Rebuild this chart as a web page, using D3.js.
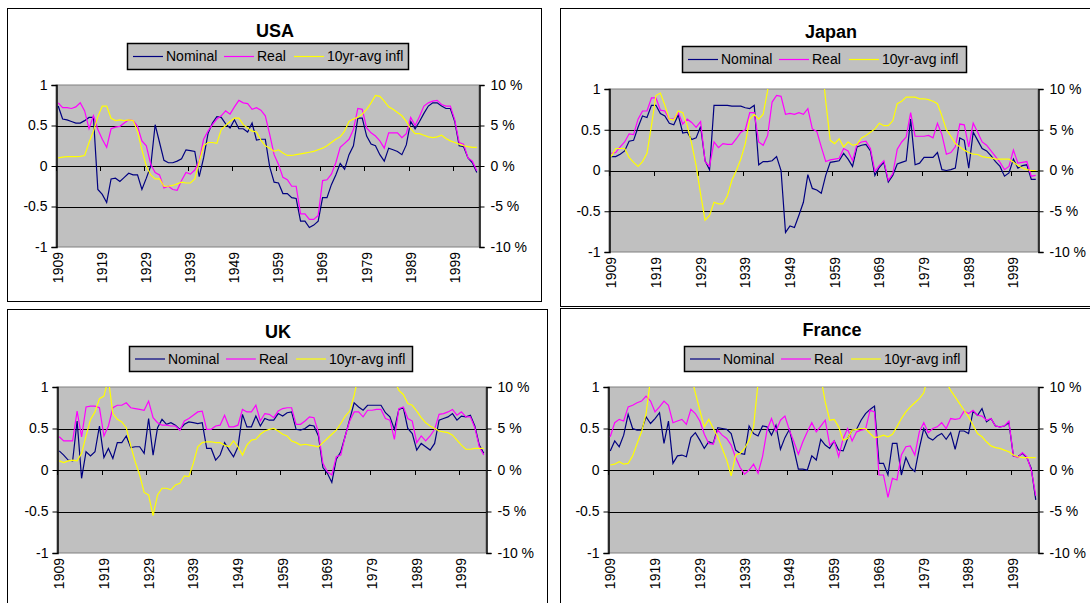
<!DOCTYPE html>
<html>
<head>
<meta charset="utf-8">
<script src="https://cdnjs.cloudflare.com/ajax/libs/d3/7.8.5/d3.min.js"></script>
<style>
  body { margin: 0; background: #fff; }
  svg { display: block; }
  text { font-family: Arial, "Liberation Sans", sans-serif; fill: #000; }
</style>
</head>
<body>
<svg id="chart" width="1090" height="603"></svg>
<script>
// categories: one per year, 1909..2004
const years = d3.range(1909, 2005);
const yearLabels = [1909, 1919, 1929, 1939, 1949, 1959, 1969, 1979, 1989, 1999];
const leftTicks = [1, 0.5, 0, -0.5, -1];
const rightTicks = [10, 5, 0, -5, -10];
const seriesNames = ['Nominal', 'Real', '10yr-avg infl'];
const seriesColors = ['#000080', '#ff00ff', '#ffff00'];

// USA
const usaNominal = [0.74,0.58,0.57,0.55,0.53,0.53,0.56,0.6,0.6,-0.29,
  -0.35,-0.45,-0.16,-0.15,-0.19,-0.14,-0.09,-0.11,-0.11,-0.29,
  -0.15,0.0,0.51,0.29,0.07,0.04,0.04,0.06,0.09,0.2,
  0.19,0.18,-0.13,0.1,0.4,0.53,0.61,0.6,0.52,0.47,
  0.57,0.46,0.46,0.42,0.53,0.32,0.33,0.33,-0.01,-0.2,
  -0.21,-0.34,-0.34,-0.39,-0.4,-0.68,-0.68,-0.76,-0.73,-0.68,
  -0.39,-0.39,-0.23,-0.11,0.03,-0.04,0.14,0.25,0.59,0.59,
  0.37,0.27,0.25,0.14,0.06,0.22,0.2,0.18,0.14,0.26,
  0.55,0.46,0.55,0.65,0.74,0.78,0.78,0.74,0.71,0.71,
  0.55,0.25,0.24,0.1,0.04,-0.08];
const usaReal = [0.78,0.72,0.72,0.71,0.73,0.78,0.68,0.46,0.62,0.45,
  0.33,0.23,0.46,0.48,0.49,0.53,0.57,0.56,0.49,0.31,
  0.25,0.02,-0.08,-0.11,-0.27,-0.25,-0.29,-0.3,-0.18,-0.08,
  -0.1,-0.05,0.06,0.33,0.43,0.51,0.58,0.62,0.68,0.64,
  0.73,0.81,0.78,0.77,0.7,0.72,0.69,0.62,0.39,0.14,
  0.02,-0.14,-0.17,-0.25,-0.25,-0.59,-0.59,-0.66,-0.66,-0.61,
  -0.18,-0.17,-0.1,0.04,0.23,0.28,0.33,0.45,0.71,0.7,
  0.47,0.41,0.37,0.31,0.22,0.41,0.41,0.41,0.35,0.4,
  0.6,0.5,0.61,0.74,0.78,0.8,0.81,0.76,0.74,0.74,
  0.57,0.29,0.27,0.1,0.06,-0.06];
const usaInfl = [1.0,1.1,1.15,1.15,1.15,1.2,1.3,2.9,4.3,6.1,
  7.4,7.4,5.9,5.6,5.7,5.6,5.7,5.6,4.3,2.0,
  0.0,-1.1,-1.6,-1.6,-2.5,-2.5,-2.4,-2.2,-2.0,-2.1,
  -2.1,-1.6,0.5,2.5,2.9,2.9,2.8,4.5,5.0,5.5,
  5.9,5.9,5.1,4.7,4.3,4.2,3.2,2.5,2.2,1.8,
  2.0,1.6,1.3,1.3,1.4,1.5,1.6,1.7,1.8,2.0,
  2.2,2.5,2.9,3.3,3.6,4.3,5.5,5.8,6.0,6.4,
  7.0,7.8,8.7,8.6,8.0,7.3,7.0,6.6,6.2,5.5,
  4.6,4.0,4.0,3.8,3.6,3.5,3.6,3.8,3.4,3.1,
  2.9,2.7,2.5,2.4,2.3,2.3];

// Japan
const japanNominal = [0.17,0.17,0.2,0.24,0.36,0.37,0.53,0.67,0.65,0.8,
  0.8,0.7,0.67,0.58,0.56,0.68,0.46,0.47,0.38,0.4,
  0.54,0.12,0.01,0.8,0.8,0.8,0.8,0.79,0.79,0.79,
  0.77,0.76,0.8,0.07,0.11,0.11,0.12,0.17,0.0,-0.76,
  -0.68,-0.7,-0.55,-0.39,-0.05,-0.22,-0.24,-0.28,-0.06,0.1,
  0.11,0.12,0.21,0.14,0.05,0.29,0.31,0.32,0.24,-0.06,
  0.04,0.1,-0.14,-0.06,0.08,0.1,0.12,0.63,0.07,0.09,
  0.16,0.16,0.16,0.22,0.01,0.0,0.01,0.03,0.4,0.37,
  0.03,0.47,0.37,0.27,0.24,0.18,0.11,0.05,-0.07,-0.03,
  0.14,0.03,0.06,0.07,-0.11,-0.11];
const japanReal = [0.21,0.22,0.29,0.35,0.45,0.44,0.63,0.73,0.73,0.89,
  0.89,0.74,0.73,0.63,0.63,0.71,0.57,0.63,0.59,0.53,
  0.6,0.11,0.05,0.35,0.28,0.33,0.32,0.32,0.39,0.47,
  0.5,0.71,0.71,0.35,0.31,0.43,0.84,0.92,0.91,0.69,
  0.7,0.69,0.71,0.69,0.76,0.51,0.48,0.29,0.11,0.13,
  0.14,0.15,0.27,0.24,0.12,0.32,0.35,0.36,0.27,-0.01,
  0.06,0.12,-0.12,-0.04,0.26,0.35,0.41,0.71,0.42,0.42,
  0.42,0.43,0.4,0.58,0.44,0.2,0.22,0.29,0.57,0.56,
  0.29,0.58,0.47,0.35,0.31,0.24,0.17,0.1,0.01,0.05,
  0.25,0.09,0.1,0.11,-0.07,-0.06];
const japanInfl = [1.7,2.7,2.7,2.7,1.6,1.0,0.5,1.1,2.1,5.5,
  9.2,9.5,8.0,6.3,6.2,7.3,7.1,5.5,3.3,0.6,
  -2.9,-6.1,-5.5,-3.9,-4.1,-4.1,-3.1,-1.2,0.0,1.4,
  3.3,6.3,6.9,6.3,6.9,9.8,20,35,50,70,
  90,100,95,80,60,40,25,14,8.5,3.7,
  3.3,3.9,2.9,3.5,3.1,3.2,4.0,4.3,4.7,5.1,
  5.8,5.5,5.5,6.1,8.2,8.5,9.0,9.0,9.0,8.8,
  8.8,8.7,8.5,8.2,6.7,5.0,4.2,3.3,2.9,2.5,
  2.2,2.0,1.96,1.7,1.6,1.55,1.4,1.4,1.4,1.4,
  1.0,0.6,0.3,0.1,0.0,0.0];

// UK
const ukNominal = [0.23,0.18,0.12,0.11,0.59,-0.1,0.22,0.17,0.22,0.53,
  0.15,0.26,0.14,0.33,0.33,0.41,0.27,0.28,0.28,0.2,
  0.62,0.18,0.51,0.61,0.55,0.57,0.54,0.49,0.55,0.58,
  0.57,0.56,0.57,0.26,0.26,0.12,0.18,0.33,0.24,0.16,
  0.28,0.67,0.52,0.52,0.65,0.53,0.62,0.6,0.6,0.68,
  0.65,0.69,0.7,0.49,0.48,0.5,0.54,0.53,0.41,0.03,
  -0.04,-0.15,0.13,0.22,0.41,0.61,0.81,0.76,0.72,0.78,
  0.78,0.78,0.78,0.69,0.64,0.49,0.73,0.75,0.5,0.44,
  0.24,0.32,0.28,0.24,0.32,0.6,0.62,0.64,0.68,0.6,
  0.65,0.64,0.66,0.53,0.3,0.2];
const ukReal = [0.4,0.35,0.35,0.35,0.71,0.4,0.76,0.77,0.77,0.75,
  0.41,0.53,0.75,0.78,0.78,0.81,0.75,0.74,0.73,0.72,
  0.83,0.63,0.57,0.54,0.54,0.53,0.53,0.48,0.59,0.62,
  0.66,0.7,0.71,0.49,0.49,0.53,0.54,0.66,0.52,0.52,
  0.54,0.73,0.7,0.7,0.78,0.59,0.68,0.67,0.63,0.71,
  0.74,0.75,0.75,0.55,0.55,0.59,0.64,0.63,0.45,0.08,
  -0.02,-0.06,0.16,0.18,0.41,0.59,0.7,0.7,0.64,0.72,
  0.72,0.73,0.73,0.62,0.6,0.37,0.74,0.76,0.62,0.59,
  0.33,0.41,0.35,0.41,0.49,0.67,0.68,0.7,0.73,0.66,
  0.7,0.64,0.64,0.51,0.28,0.18];
const ukInfl = [1.1,0.9,1.1,1.2,1.1,2.0,4.1,6.1,7.0,8.6,
  8.9,11.0,6.8,6.1,5.8,5.1,2.9,1.0,-0.6,-2.7,
  -3.0,-5.5,-3.0,-2.2,-2.2,-2.4,-1.8,-1.6,-0.7,-0.8,
  0.8,2.8,3.3,3.4,3.4,3.3,3.3,3.0,2.8,3.5,
  2.8,1.8,3.0,3.6,3.7,4.3,4.7,4.9,5.0,4.7,
  4.3,4.1,3.5,3.3,3.0,3.1,3.0,2.9,2.8,3.3,
  3.8,4.3,4.8,5.6,6.5,7.1,9.0,11.5,13,14,
  14.5,14.5,14,13,12,10.8,9.6,9.1,8.0,7.8,
  7.1,6.3,5.7,5.3,5.0,4.7,4.6,4.5,4.2,3.6,
  3.0,2.5,2.5,2.6,2.6,2.6];

// France
const franceNominal = [0.23,0.35,0.28,0.42,0.67,0.5,0.48,0.48,0.64,0.56,
  0.62,0.69,0.32,0.59,0.08,0.17,0.18,0.16,0.39,0.45,
  0.36,0.26,0.34,0.32,0.51,0.5,0.49,0.44,0.24,0.2,
  0.19,0.53,0.44,0.41,0.53,0.52,0.42,0.54,0.25,0.39,
  0.49,0.25,0.01,0.01,0.0,0.17,0.12,0.37,0.3,0.26,
  0.35,0.24,0.23,0.38,0.48,0.49,0.6,0.68,0.73,0.77,
  0.08,0.08,-0.06,0.32,0.32,-0.06,0.15,0.03,-0.02,0.26,
  0.5,0.39,0.36,0.41,0.44,0.37,0.45,0.25,0.47,0.47,
  0.44,0.71,0.66,0.74,0.58,0.62,0.53,0.52,0.53,0.57,
  0.17,0.16,0.2,0.15,0.02,-0.36];
const franceReal = [0.4,0.57,0.61,0.59,0.76,0.78,0.81,0.83,0.89,0.83,
  0.7,0.76,0.83,0.78,0.57,0.59,0.61,0.55,0.73,0.68,
  0.59,0.43,0.32,0.31,0.48,0.42,0.38,0.3,0.15,0.03,
  -0.05,0.0,0.07,-0.04,0.16,0.48,0.62,0.47,0.6,0.65,
  0.48,0.34,0.19,0.34,0.46,0.57,0.46,0.53,0.6,0.3,
  0.35,0.16,0.38,0.5,0.35,0.46,0.48,0.49,0.72,0.7,
  -0.06,-0.06,-0.33,-0.1,-0.12,0.18,0.28,0.29,0.18,0.46,
  0.57,0.45,0.5,0.52,0.57,0.5,0.62,0.61,0.62,0.71,
  0.68,0.72,0.66,0.65,0.6,0.62,0.53,0.52,0.53,0.59,
  0.17,0.15,0.21,0.16,0.0,-0.31];
const franceInfl = [0.6,0.7,1.0,0.7,0.8,1.7,3.2,4.6,6.8,11,
  15,18,20,21,20,19,17,14,11.5,9.3,
  7.2,5.2,6.1,5.0,4.0,2.6,1.2,-0.7,1.8,2.0,
  2.6,3.6,5.2,10.5,20,30,45,55,60,55,
  45,35,28,22,19,17,15,11.2,8.2,6.0,
  6.1,5.2,3.6,3.8,4.8,4.9,5.0,5.0,4.4,3.9,
  4.0,4.2,4.0,4.3,5.2,6.2,7.0,7.6,8.1,8.6,
  9.3,11.5,13,13.5,12.5,10.6,9.6,8.8,8.0,7.2,
  6.4,5.4,4.4,4.0,3.4,2.9,2.7,2.6,2.4,2.2,
  1.8,1.6,1.5,1.5,1.5,1.5];

// layout of the four chart panels
const panels = [
  { title: 'USA', series: [usaNominal, usaReal, usaInfl],
    box: [7.5, 8.5, 534, 293], plot: [56, 85, 479, 247],
    titlePos: [275, 37], legend: [127, 43, 281, 26] },
  { title: 'Japan', series: [japanNominal, japanReal, japanInfl],
    box: [560.5, 8.5, 540, 298], plot: [609, 89, 1038, 252],
    titlePos: [831, 38], legend: [682, 46, 284, 26] },
  { title: 'UK', series: [ukNominal, ukReal, ukInfl],
    box: [7.5, 309.5, 540, 300], plot: [57, 387, 486, 553],
    titlePos: [278, 338], legend: [129, 346, 283, 25] },
  { title: 'France', series: [franceNominal, franceReal, franceInfl],
    box: [560.5, 308.5, 540, 300], plot: [608, 387, 1038, 553],
    titlePos: [832, 336], legend: [684, 346, 282, 25] }
];

const svg = d3.select('#chart');

panels.forEach(function (p, pi) {
  const [left, top, right, bottom] = p.plot;
  const g = svg.append('g');

  // outer frame
  g.append('rect')
    .attr('x', p.box[0]).attr('y', p.box[1])
    .attr('width', p.box[2]).attr('height', p.box[3])
    .attr('fill', '#fff').attr('stroke', '#000').attr('stroke-width', 1);

  g.append('text')
    .attr('x', p.titlePos[0]).attr('y', p.titlePos[1])
    .attr('text-anchor', 'middle')
    .style('font-size', '18px').style('font-weight', 'bold')
    .text(p.title);

  // scales
  const x = d3.scaleBand().domain(years).range([left, right]);
  const yL = d3.scaleLinear().domain([-1, 1]).range([bottom, top]);
  const yR = d3.scaleLinear().domain([-10, 10]).range([bottom, top]);

  // plot area
  g.append('rect')
    .attr('x', left).attr('y', top)
    .attr('width', right - left).attr('height', bottom - top)
    .attr('fill', '#c0c0c0').attr('stroke', '#808080').attr('stroke-width', 1);

  // gridlines
  g.selectAll('.grid')
    .data(leftTicks.filter(d => Math.abs(d) < 1))
    .enter().append('line')
    .attr('x1', left).attr('x2', right)
    .attr('y1', d => Math.round(yL(d)) + 0.5).attr('y2', d => Math.round(yL(d)) + 0.5)
    .attr('stroke', '#000').attr('stroke-width', 1);

  // tick marks on the category axis (at y = 0), at category boundaries
  g.selectAll('.xtick')
    .data(yearLabels)
    .enter().append('line')
    .attr('x1', d => Math.round(x(d)) + 0.5).attr('x2', d => Math.round(x(d)) + 0.5)
    .attr('y1', Math.round(yL(0))).attr('y2', Math.round(yL(0)) + 5)
    .attr('stroke', '#000');

  // category labels at the bottom of the plot
  const xAxis = g.append('g')
    .attr('transform', 'translate(0,' + bottom + ')')
    .call(d3.axisBottom(x).tickValues(yearLabels).tickSize(0));
  xAxis.select('.domain').remove();
  xAxis.selectAll('text')
    .attr('transform', 'rotate(-90)')
    .attr('x', -5).attr('y', 0).attr('dy', '0.35em')
    .style('text-anchor', 'end')
    .style('font-size', '14px').style('font-family', 'Arial, "Liberation Sans", sans-serif');

  // left and right value axes
  const leftAxis = g.append('g')
    .attr('transform', 'translate(' + (left + 0.5) + ',0)')
    .call(d3.axisLeft(yL).tickValues(leftTicks).tickSize(5).tickPadding(4)
      .tickFormat(d => String(d)));
  const rightAxis = g.append('g')
    .attr('transform', 'translate(' + (right + 0.5) + ',0)')
    .call(d3.axisRight(yR).tickValues(rightTicks).tickSize(5).tickPadding(6)
      .tickFormat(d => d + ' %'));
  [leftAxis, rightAxis].forEach(function (a) {
    a.select('.domain').attr('stroke', '#000').attr('stroke-width', 1.5);
    a.selectAll('line').attr('stroke', '#000');
    a.selectAll('text').style('font-size', '14px')
      .style('font-family', 'Arial, "Liberation Sans", sans-serif');
  });

  // clip lines to the plot area
  g.append('clipPath').attr('id', 'clip' + pi)
    .append('rect')
    .attr('x', left).attr('y', top)
    .attr('width', right - left).attr('height', bottom - top);

  const cx = d => x(d) + x.bandwidth() / 2;
  p.series.forEach(function (values, si) {
    const yScale = si === 2 ? yR : yL;
    const line = d3.line()
      .x((d, i) => cx(years[i]))
      .y(d => yScale(d));
    g.append('path')
      .datum(values)
      .attr('clip-path', 'url(#clip' + pi + ')')
      .attr('fill', 'none')
      .attr('stroke', seriesColors[si])
      .attr('stroke-width', 1.2)
      .attr('d', line);
  });

  // legend
  const [lx, ly, lw, lh] = p.legend;
  g.append('rect')
    .attr('x', lx + 0.5).attr('y', ly + 0.5)
    .attr('width', lw).attr('height', lh)
    .attr('fill', '#c0c0c0').attr('stroke', '#000').attr('stroke-width', 1.5);
  const lineOffsets = [6, 97, 167];
  const items = g.selectAll('.legend')
    .data(seriesNames)
    .enter().append('g')
    .attr('transform', (d, i) => 'translate(' + (lx + lineOffsets[i]) + ',' + (ly + lh / 2) + ')');
  items.append('line')
    .attr('x1', 0).attr('x2', 30).attr('y1', 0.5).attr('y2', 0.5)
    .attr('stroke', (d, i) => seriesColors[i]).attr('stroke-width', 1.2);
  items.append('text')
    .attr('x', 33).attr('y', 5)
    .style('font-size', '14px')
    .text(d => d);
});
</script>
</body>
</html>
